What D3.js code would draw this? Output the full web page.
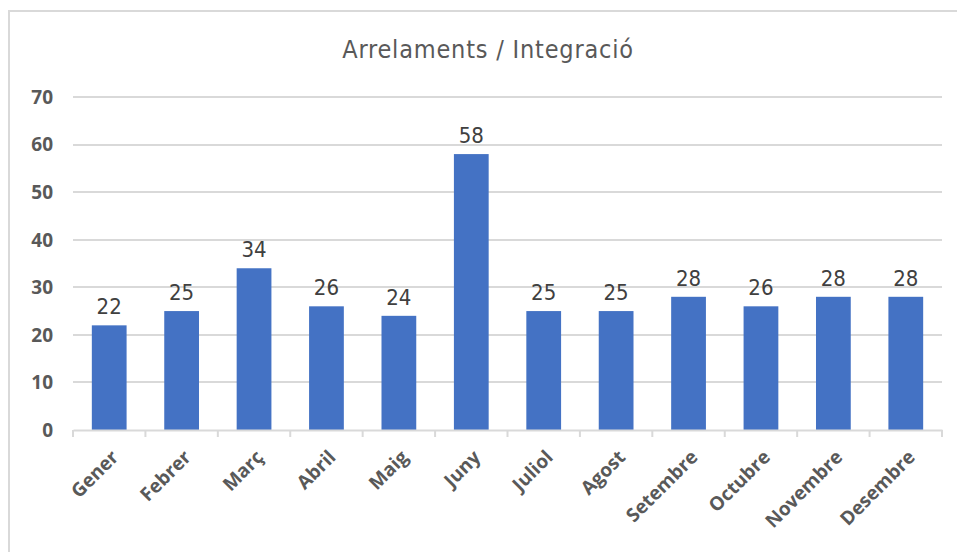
<!DOCTYPE html>
<html>
<head>
<meta charset="utf-8">
<script src="https://cdn.jsdelivr.net/npm/d3@7"></script>
<style>
  body { margin: 0; background: #fff; }
  svg { display: block; }
</style>
</head>
<body>
<div id="chart"></div>
<script>
// data
var months = ["Gener", "Febrer", "Març", "Abril", "Maig", "Juny", "Juliol", "Agost", "Setembre", "Octubre", "Novembre", "Desembre"];
var values = [22, 25, 34, 26, 24, 58, 25, 25, 28, 26, 28, 28];
var yTicks = [0, 10, 20, 30, 40, 50, 60, 70];
var title = "Arrelaments / Integració";

var W = 957, H = 552;

var svg = d3.select("#chart").append("svg")
    .attr("width", W)
    .attr("height", H);

// chart area border
svg.append("rect")
    .attr("x", 9).attr("y", 11)
    .attr("width", W).attr("height", H)
    .attr("fill", "#fff")
    .attr("stroke", "#d9d9d9")
    .attr("stroke-width", 2);

var x = d3.scaleBand()
    .domain(months)
    .range([73, 942])
    .paddingInner(0.52)
    .paddingOuter(0.26);

var y = d3.scaleLinear()
    .domain([0, 70])
    .range([430, 97]);

// gridlines
svg.append("g").selectAll("line")
    .data(yTicks.slice(1))
    .enter().append("line")
    .attr("x1", 73).attr("x2", 942)
    .attr("y1", function(d){ return Math.round(y(d)); })
    .attr("y2", function(d){ return Math.round(y(d)); })
    .attr("stroke", "#d9d9d9")
    .attr("stroke-width", 2);

// y labels
svg.append("g").selectAll("text")
    .data(yTicks)
    .enter().append("text")
    .attr("x", 53)
    .attr("y", function(d){ return y(d); })
    .attr("dy", "0.36em")
    .attr("text-anchor", "end")
    .attr("font-family", "Open Sans, sans-serif")
    .attr("font-weight", "bold")
    .attr("font-size", 19)
    .attr("fill", "#595959")
    .text(function(d){ return d; });

// bars
svg.append("g").selectAll("rect")
    .data(values)
    .enter().append("rect")
    .attr("x", function(d, i){ return x(months[i]); })
    .attr("width", x.bandwidth())
    .attr("y", function(d){ return y(d); })
    .attr("height", function(d){ return y(0) - y(d); })
    .attr("fill", "#4472c4");

// value labels
svg.append("g").selectAll("text")
    .data(values)
    .enter().append("text")
    .attr("x", function(d, i){ return x(months[i]) + x.bandwidth() / 2; })
    .attr("y", function(d){ return y(d) - 11; })
    .attr("text-anchor", "middle")
    .attr("font-family", "DejaVu Sans Condensed, DejaVu Sans, sans-serif")
    .attr("font-stretch", "condensed")
    .attr("font-size", 22)
    .attr("fill", "#404040")
    .text(function(d){ return d; });

// x axis
var xAxis = d3.axisBottom(x).tickSize(0).tickFormat("");
svg.append("g")
    .attr("transform", "translate(0,430)")
    .call(xAxis)
    .select(".domain")
    .attr("stroke", "#d9d9d9")
    .attr("stroke-width", 2);

// band-edge ticks
var edges = months.map(function(m){ return x(m) - x.step() * x.paddingInner() / 2; });
edges.push(942);
svg.append("g").selectAll("line")
    .data(edges)
    .enter().append("line")
    .attr("x1", function(d){ return d; })
    .attr("x2", function(d){ return d; })
    .attr("y1", 430).attr("y2", 437)
    .attr("stroke", "#d9d9d9")
    .attr("stroke-width", 2);

// x labels
svg.append("g").selectAll("text")
    .data(months)
    .enter().append("text")
    .attr("transform", function(d){
        return "translate(" + (x(d) + x.bandwidth() / 2 + 1) + ",449) rotate(-45)";
    })
    .attr("text-anchor", "end")
    .attr("dy", "0.7em")
    .attr("font-family", "Open Sans, sans-serif")
    .attr("font-weight", "bold")
    .attr("font-size", 19)
    .attr("fill", "#595959")
    .text(function(d){ return d; });

// title
svg.append("text")
    .attr("x", 488)
    .attr("y", 58)
    .attr("text-anchor", "middle")
    .attr("font-family", "DejaVu Sans Condensed, DejaVu Sans, sans-serif")
    .attr("font-stretch", "condensed")
    .attr("font-size", 25)
    .attr("letter-spacing", 0.8)
    .attr("fill", "#595959")
    .text(title);
</script>
</body>
</html>
